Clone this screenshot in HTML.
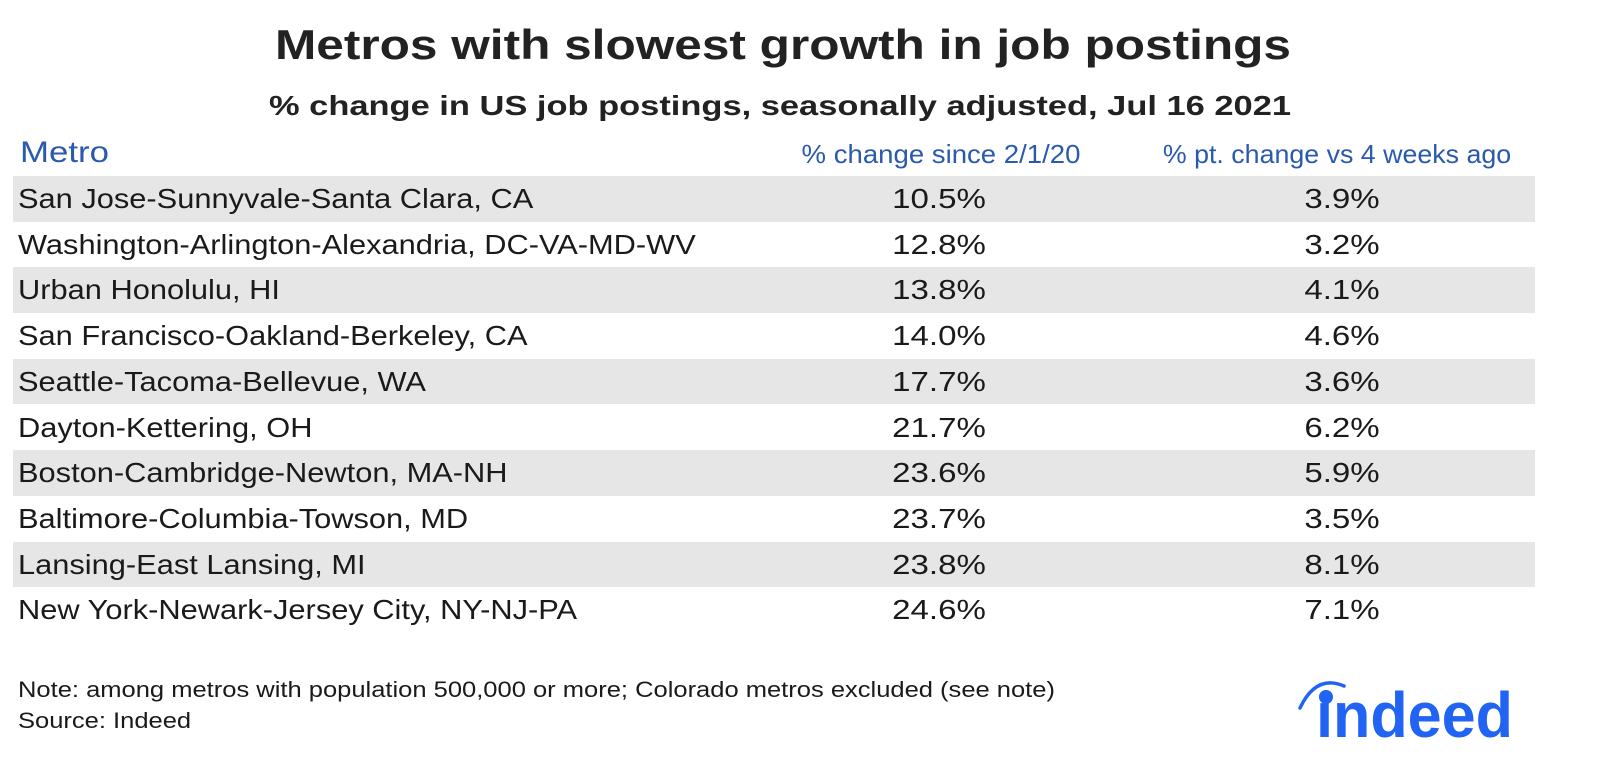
<!DOCTYPE html>
<html><head><meta charset="utf-8">
<style>
body{margin:0;width:1600px;height:770px;background:#fff;font-family:"Liberation Sans",sans-serif;position:relative;overflow:hidden;color:#1a1a1a}
.t{position:absolute;white-space:nowrap}
#title{left:0;width:1566px;text-align:center;top:21px;font-size:42px;font-weight:bold;color:#222;transform:scaleX(1.18);transform-origin:783px 0}
#sub{left:0;width:1560px;text-align:center;top:90px;font-size:28px;font-weight:bold;color:#222;transform:scaleX(1.23);transform-origin:780px 0}
.hdr{top:139px;color:#2a5aad;font-size:26px}
.band{position:absolute;left:13px;width:1522px;height:45.7px}
.cell{position:absolute;font-size:28px;line-height:45.7px;white-space:nowrap;color:#1a1a1a}
.note{font-size:22px;color:#1a1a1a;transform:scaleX(1.16);transform-origin:0 0}
</style></head><body>
<div id="title" class="t">Metros with slowest growth in job postings</div>
<div id="sub" class="t">% change in US job postings, seasonally adjusted, Jul 16 2021</div>
<div class="t hdr" style="left:20px;font-size:30px;top:136px;transform:scaleX(1.16);transform-origin:0 0">Metro</div>
<div class="t hdr" style="left:791px;width:300px;text-align:center;transform:scaleX(1.06)">% change since 2/1/20</div>
<div class="t hdr" style="left:1162px;width:350px;text-align:center;transform:scaleX(1.03)">% pt. change vs 4 weeks ago</div>
<div id="rows"></div>
<div class="t note" style="left:18px;top:677px">Note: among metros with population 500,000 or more; Colorado metros excluded (see note)</div>
<div class="t note" style="left:18px;top:708px">Source: Indeed</div>
<svg class="t" style="left:1290px;top:670px" width="240" height="80">
<path d="M10,38 Q26,4 54,16" stroke="#2164f3" stroke-width="3.5" fill="none" stroke-linecap="round"/>
<circle cx="36" cy="27" r="7" fill="#2164f3"/>
<text x="26" y="67" font-family="Liberation Sans,sans-serif" font-weight="bold" font-size="64" fill="#2164f3" textLength="197" lengthAdjust="spacingAndGlyphs">ındeed</text>
</svg>
<script>
const metros=["San Jose-Sunnyvale-Santa Clara, CA","Washington-Arlington-Alexandria, DC-VA-MD-WV","Urban Honolulu, HI","San Francisco-Oakland-Berkeley, CA","Seattle-Tacoma-Bellevue, WA","Dayton-Kettering, OH","Boston-Cambridge-Newton, MA-NH","Baltimore-Columbia-Towson, MD","Lansing-East Lansing, MI","New York-Newark-Jersey City, NY-NJ-PA"];
const sinceFeb=[10.5,12.8,13.8,14.0,17.7,21.7,23.6,23.7,23.8,24.6];
const vs4wk=[3.9,3.2,4.1,4.6,3.6,6.2,5.9,3.5,8.1,7.1];
const rows=document.getElementById('rows');
metros.forEach((m,i)=>{
  const y=176+i*45.7;
  const b=document.createElement('div');
  b.className='band';b.style.top=y+'px';b.style.background=i%2===0?'#e6e6e6':'#fff';
  
  
  rows.appendChild(b);
  const c1=document.createElement('div');c1.className='cell';c1.style.left='18px';c1.style.top=y+'px';c1.style.transform='scaleX(1.1)';c1.style.transformOrigin='0 0';c1.textContent=m;
  
  
  rows.appendChild(c1);
  const c2=document.createElement('div');c2.className='cell';c2.style.left='839px';c2.style.width='200px';c2.style.textAlign='center';c2.style.transform='scaleX(1.18)';c2.style.top=y+'px';c2.textContent=sinceFeb[i].toFixed(1)+'%';
  
  
  rows.appendChild(c2);
  const c3=document.createElement('div');c3.className='cell';c3.style.left='1242px';c3.style.width='200px';c3.style.textAlign='center';c3.style.transform='scaleX(1.18)';c3.style.top=y+'px';c3.textContent=vs4wk[i].toFixed(1)+'%';
  
  
  rows.appendChild(c3);
});
</script>
</body></html>
